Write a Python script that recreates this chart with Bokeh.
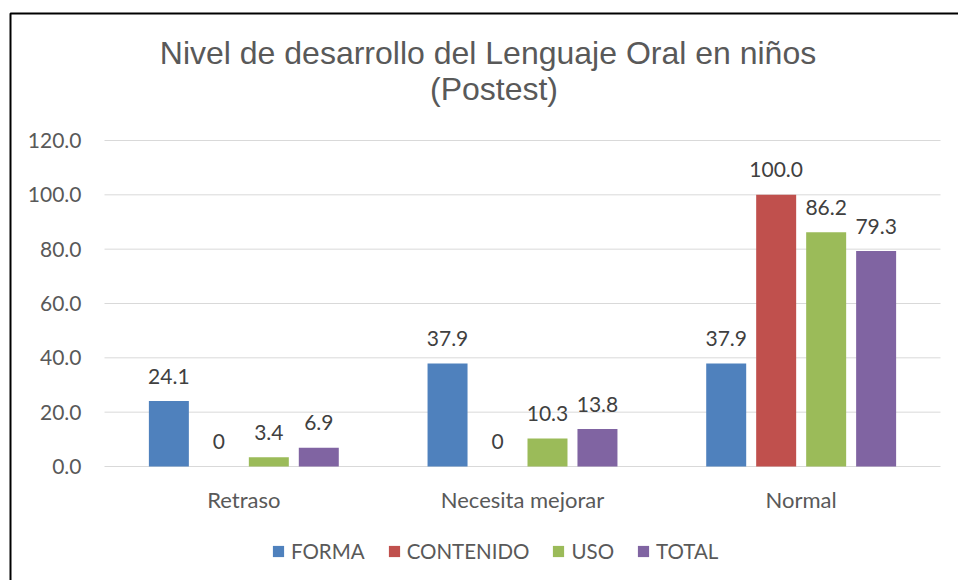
from bokeh.plotting import figure
from bokeh.models import (Range1d, FixedTicker, NumeralTickFormatter,
                          Legend, LegendItem, Label, ColumnDataSource, BoxAnnotation)
from bokeh.transform import dodge
from bokeh.core.properties import value
from bokeh.embed import file_html
from bokeh.resources import INLINE

categories = ["Retraso", "Necesita mejorar", "Normal"]
series = ["FORMA", "CONTENIDO", "USO", "TOTAL"]
forma = [24.1, 37.9, 37.9]
contenido = [0, 0, 100.0]
uso = [3.4, 10.3, 86.2]
total = [6.9, 13.8, 79.3]
y_ticks = [0, 20, 40, 60, 80, 100, 120]
title_line1 = "Nivel de desarrollo del Lenguaje Oral en niños"
title_line2 = "(Postest)"

colors = ["#4F81BD", "#C0504D", "#9BBB59", "#8064A2"]
values_by_series = [forma, contenido, uso, total]
offsets = [-0.269, -0.0897, 0.0897, 0.269]
bar_w = 0.1435

W, H = 958, 580
# layout (pixels): plot area 104..940 wide, value 0 at y=466, value 120 at y=140
CAT_PX = (940 - 104) / 3.0
Y_PX = (466 - 140) / 120.0
def px_x(px):
    return (px - 104) / CAT_PX - 0.5
def px_y(py):
    return (466 - py) / Y_PX

LABEL_FONT = "Lato"
FS = "21px"

p = figure(x_range=Range1d(px_x(0), px_x(W)), y_range=Range1d(px_y(H), px_y(0)),
           width=W, height=H, output_backend="svg", toolbar_location=None,
           min_border=0, min_border_left=0, min_border_right=0,
           min_border_top=0, min_border_bottom=0)
p.outline_line_color = None
p.xgrid.visible = False
p.ygrid.visible = False

xs = list(range(len(categories)))
# horizontal gridlines over the category area
p.segment(x0=-0.5, x1=len(categories) - 0.5, y0=y_ticks, y1=y_ticks,
          line_color="#D9D9D9", line_width=1)

p.yaxis.fixed_location = -0.5
p.yaxis.ticker = FixedTicker(ticks=y_ticks)
p.yaxis.formatter = NumeralTickFormatter(format="0.0")
p.xaxis.fixed_location = 0
p.xaxis.ticker = FixedTicker(ticks=xs)
p.xaxis.major_label_overrides = {i: c for i, c in zip(xs, categories)}
for ax in (p.xaxis, p.yaxis):
    ax.axis_line_color = None
    ax.major_tick_line_color = None
    ax.minor_tick_line_color = None
    ax.major_label_text_font = LABEL_FONT
    ax.major_label_text_font_size = FS
    ax.major_label_text_color = "#595959"
p.xaxis.major_label_text_font_size = "22px"
p.yaxis.major_label_standoff = 17
p.xaxis.major_label_standoff = 13

items = []
for name, vals, col, off in zip(series, values_by_series, colors, offsets):
    src = ColumnDataSource(dict(
        x=xs, val=vals,
        lab=["0" if v == 0 else f"{v:.1f}" for v in vals]))
    r = p.vbar(x=dodge("x", off), top="val", width=bar_w,
               source=src, fill_color=col, line_color=None)
    p.text(x=dodge("x", off), y="val", text="lab", source=src,
           y_offset=-25, text_align="center", text_baseline="alphabetic",
           text_font=value(LABEL_FONT), text_font_size=FS, text_color="#404040")
    items.append(LegendItem(label=name, renderers=[r]))

legend = Legend(items=items, orientation="horizontal", location=(271, H - 563),
                glyph_width=14, glyph_height=14, label_standoff=6, spacing=22,
                padding=0, margin=0, border_line_color=None,
                background_fill_alpha=0, label_text_font=LABEL_FONT,
                label_text_font_size="20.5px", label_text_color="#595959")
p.add_layout(legend, "center")

for txt, cx, by in [(title_line1, 487.5, 52), (title_line2, 493.5, 88)]:
    p.add_layout(Label(x=px_x(cx), y=px_y(by), text=txt,
                       text_align="center", text_baseline="alphabetic",
                       text_font="Liberation Sans", text_font_size="32px",
                       text_color="#595959"))

# chart border (top and left edges visible)
p.add_layout(BoxAnnotation(left=px_x(10), right=px_x(W + 50), top=px_y(13),
                           bottom=px_y(H + 50), fill_alpha=0, line_color="black",
                           line_width=2, line_alpha=1))

open("out.html", "w").write(file_html(p, INLINE))
